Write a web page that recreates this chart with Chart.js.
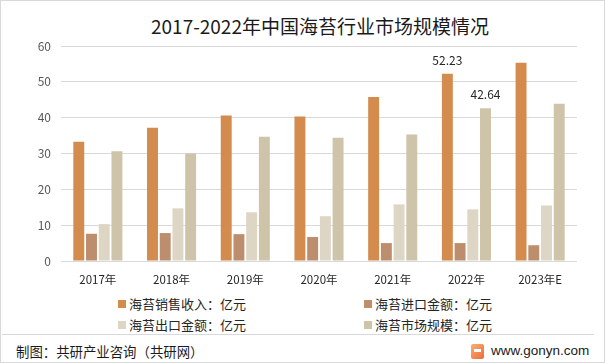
<!DOCTYPE html>
<html>
<head>
<meta charset="utf-8">
<script src="https://cdn.jsdelivr.net/npm/chart.js@4"></script>
<style>
    body { margin: 0; background: #fff; }
    #frame {
        position: relative; width: 605px; height: 363px; box-sizing: border-box;
        border: 1px solid #d9d9d9; overflow: hidden;
        font-family: "Noto Sans CJK SC", "Noto Sans", sans-serif; color: #262626;
    }
    #chart-box { position: absolute; left: 0; top: 0; width: 605px; height: 290px; }
    #title { position: absolute; left: 150px; top: 15px; font-size: 19px; line-height: 19px; color: #1a1a1a; white-space: nowrap; }
    .legend-item { position: absolute; font-size: 13px; line-height: 13px; color: #262626; white-space: nowrap; }
    .legend-item span { display: inline-block; width: 8px; height: 8px; margin-right: 3px; vertical-align: 1px; }
    #sep { position: absolute; left: 1px; right: 10px; top: 333px; height: 1px; background: #d9d9d9; }
    #source { position: absolute; left: 15px; top: 343px; font-size: 13.4px; line-height: 14px; color: #1a1a1a; white-space: nowrap; }
    #logo {
        position: absolute; left: 470px; top: 343px; width: 13px; height: 15px; border-radius: 2px;
        background: linear-gradient(135deg, #f9b070, #ee6a3a);
    }
    #logo::after { content: ""; position: absolute; left: 3px; top: 5px; width: 7px; height: 3px; background: #fff; }
    #site { position: absolute; left: 490px; top: 343px; font-family: "Liberation Sans", Arial, sans-serif; font-size: 13.5px; line-height: 14px; color: #1a1a1a; }
</style>
</head>
<body>
<div id="frame">
    <div id="title">2017-2022年中国海苔行业市场规模情况</div>
    <div id="chart-box"><canvas id="chart" width="605" height="290"></canvas></div>
    <div id="legend"></div>
    <div id="sep"></div>
    <div id="source">制图：共研产业咨询（共研网）</div>
    <div id="logo"></div>
    <div id="site">www.gonyn.com</div>
</div>
<script>
const years = ["2017年", "2018年", "2019年", "2020年", "2021年", "2022年", "2023年E"];

// 亿元
const salesRevenue = [33.3, 37.2, 40.6, 40.3, 45.8, 52.23, 55.3];
const importValue = [7.6, 7.8, 7.5, 6.7, 5.0, 5.0, 4.4];
const exportValue = [10.3, 14.7, 13.6, 12.5, 15.8, 14.4, 15.5];
const marketSize = [30.6, 30.0, 34.7, 34.4, 35.3, 42.64, 43.9];

const seriesNames = ["海苔销售收入：亿元", "海苔进口金额：亿元", "海苔出口金额：亿元", "海苔市场规模：亿元"];
const seriesColors = ["#D38B4E", "#BC8E6D", "#DDD6C4", "#CEC4A9"];

// only these points carry a value label in the original
const labelledPoints = [{ series: 0, index: 5 }, { series: 3, index: 5 }];

const yTicks = [0, 10, 20, 30, 40, 50, 60];

const font = '"Noto Sans CJK SC", "Noto Sans", sans-serif';

const valueLabels = {
    id: "valueLabels",
    afterDatasetsDraw(chart) {
        const ctx = chart.ctx;
        ctx.save();
        ctx.font = "12px " + font;
        ctx.fillStyle = "#262626";
        ctx.textAlign = "center";
        ctx.textBaseline = "middle";
        labelledPoints.forEach(p => {
            const bar = chart.getDatasetMeta(p.series).data[p.index];
            const value = chart.data.datasets[p.series].data[p.index];
            ctx.fillText(value.toFixed(2), bar.x, bar.y - 13.5);
        });
        ctx.restore();
    }
};

const allSeries = [salesRevenue, importValue, exportValue, marketSize];

const chart = new Chart(document.getElementById("chart").getContext("2d"), {
    type: "bar",
    data: {
        labels: years,
        datasets: allSeries.map((values, i) => ({
            label: seriesNames[i],
            data: values,
            backgroundColor: seriesColors[i],
            categoryPercentage: 0.69,
            barPercentage: 0.86
        }))
    },
    options: {
        responsive: false,
        animation: false,
        layout: { padding: { top: 45, right: 29, left: 0, bottom: 0 } },
        plugins: {
            legend: { display: false },
            title: { display: false },
            tooltip: { enabled: false }
        },
        scales: {
            x: {
                grid: { display: false, drawTicks: false },
                border: { display: false },
                ticks: { color: "#262626", font: { family: font, size: 11.5 }, padding: 12, maxRotation: 0 },
                afterFit(scale) { scale.height = 30; }
            },
            y: {
                min: 0,
                max: 60,
                afterBuildTicks(scale) { scale.ticks = yTicks.map(v => ({ value: v })); },
                grid: { color: "#d9d9d9", drawTicks: false },
                border: { display: false },
                ticks: { color: "#595959", font: { family: font, size: 12 }, padding: 10 },
                afterFit(scale) { scale.width = 60; }
            }
        }
    },
    plugins: [valueLabels]
});

// legend in two columns like the original
const legendBox = document.getElementById("legend");
const legendSpots = [[117, 296], [363, 296], [117, 317], [363, 317]];
seriesNames.forEach((name, i) => {
    const item = document.createElement("div");
    item.className = "legend-item";
    item.style.left = legendSpots[i][0] + "px";
    item.style.top = legendSpots[i][1] + "px";
    const box = document.createElement("span");
    box.style.background = seriesColors[i];
    item.appendChild(box);
    item.appendChild(document.createTextNode(name));
    legendBox.appendChild(item);
});
</script>
</body>
</html>
